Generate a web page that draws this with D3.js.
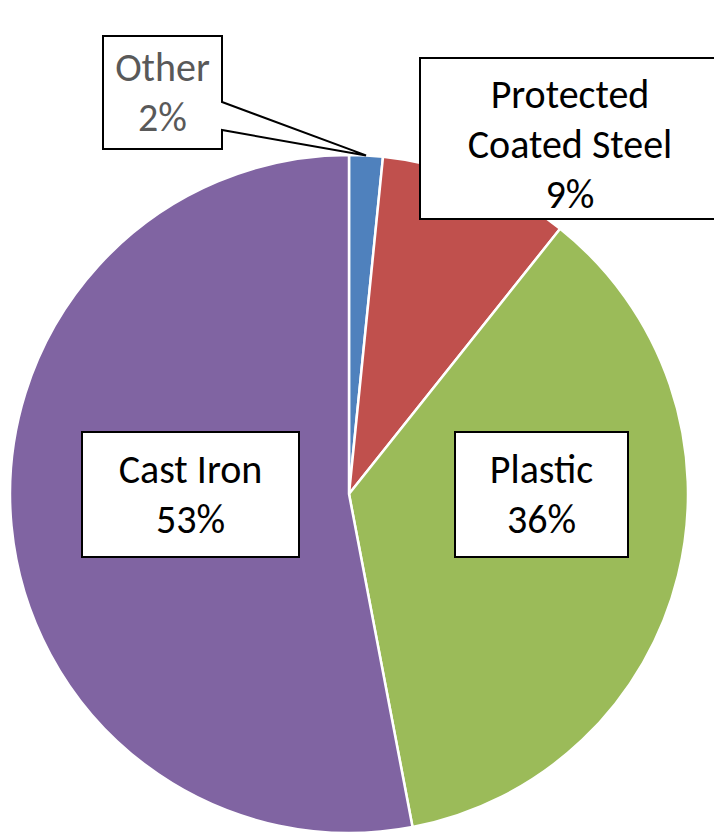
<!DOCTYPE html>
<html>
<head>
<meta charset="utf-8">
<script src="https://cdn.jsdelivr.net/npm/d3@7"></script>
<style>
  html, body { margin: 0; padding: 0; background: #fff; }
  svg { display: block; }
</style>
</head>
<body>
<svg id="chart" width="714" height="835"></svg>
<script>
// ---- data ----
const categories = ["Other", "Protected Coated Steel", "Plastic", "Cast Iron"];
const values = [1.6, 9.1, 36.3, 53.0];
const labelNames = [["Other"], ["Protected", "Coated Steel"], ["Plastic"], ["Cast Iron"]];
const colors = ["#4F81BD", "#C0504D", "#9BBB59", "#8064A2"];

// ---- layout ----
const W = 714, H = 835;
const cx = 349, cy = 494, R = 339;
const fontSize = 40, lineH = 50, capHalf = 13.5;
// label boxes: centre offset from pie centre, size, extra text shift
const labelLayout = [
  { dx: -186.5, dy: -401.5, w: 119, h: 113, tdy: 0, color: "#595959", callout: true },
  { dx: 221, dy: -355.5, w: 300, h: 161, tdy: 6, color: "#000" },
  { dx: 192.5, dy: 0.5, w: 173, h: 125, tdy: 0, color: "#000" },
  { dx: -158.5, dy: 0.5, w: 217, h: 125, tdy: 0, color: "#000" }
];

const svg = d3.select("#chart");
const g = svg.append("g").attr("transform", `translate(${cx},${cy})`);

const pie = d3.pie().sort(null).value(d => d)(values);
const arc = d3.arc().innerRadius(0).outerRadius(R);

g.selectAll("path.slice")
  .data(pie)
  .join("path")
  .attr("class", "slice")
  .attr("d", arc)
  .attr("fill", (d, i) => colors[i])
  .attr("stroke", "#fff")
  .attr("stroke-width", 2.5)
  .attr("stroke-linejoin", "round");

const labels = g.selectAll("g.label")
  .data(pie)
  .join("g")
  .attr("class", "label");

labels.each(function (d, i) {
  const L = labelLayout[i];
  const sel = d3.select(this);
  const x0 = L.dx - L.w / 2, y0 = L.dy - L.h / 2, x1 = x0 + L.w, y1 = y0 + L.h;
  if (L.callout) {
    const mid = (d.startAngle + d.endAngle) / 2;
    const tx = R * Math.sin(mid), ty = -R * Math.cos(mid);
    const p = d3.path();
    p.moveTo(x0, y0);
    p.lineTo(x1, y0);
    p.lineTo(x1, y0 + L.h * 0.584);
    p.lineTo(tx, ty);
    p.lineTo(x1, y0 + L.h * 0.832);
    p.lineTo(x1, y1);
    p.lineTo(x0, y1);
    p.closePath();
    sel.append("path").attr("d", p.toString())
      .attr("fill", "#fff").attr("stroke", "#000").attr("stroke-width", 2)
      .attr("stroke-linejoin", "miter");
  } else {
    sel.append("rect").attr("x", x0).attr("y", y0).attr("width", L.w).attr("height", L.h)
      .attr("fill", "#fff").attr("stroke", "#000").attr("stroke-width", 2);
  }
  const lines = labelNames[i].concat([Math.round(values[i]) + "%"]);
  const n = lines.length;
  const text = sel.append("text")
    .attr("text-anchor", "middle")
    .attr("font-family", "Calibri, Carlito, Lato, sans-serif")
    .attr("font-size", fontSize)
    .attr("fill", L.color);
  lines.forEach((t, k) => {
    text.append("tspan")
      .attr("x", L.dx)
      .attr("y", L.dy + L.tdy + (k - (n - 1) / 2) * lineH + capHalf)
      .text(t);
  });
});
</script>
</body>
</html>
